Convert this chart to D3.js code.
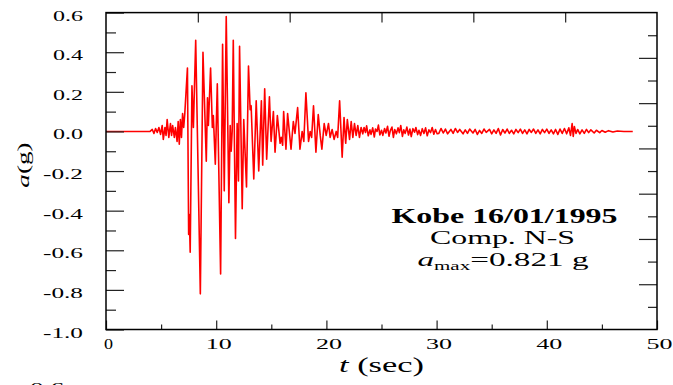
<!DOCTYPE html>
<html>
<head>
<meta charset="utf-8">
<script src="https://cdn.jsdelivr.net/npm/d3@7"></script>
<style>
  html, body { margin: 0; padding: 0; background: #fff; }
  svg { display: block; }
  text { font-family: 'Liberation Serif', 'Times New Roman', serif; fill: #000; }
</style>
</head>
<body>
<script>
// Kobe 16/01/1995, N-S component: [t (sec), a (g)]
const preEvent = [
  [0, 0], [4.0, 0], [4.2, 0.01], [4.35, -0.01], [4.5, 0.015], [4.65, -0.005], [4.8, 0.02],
  [4.95, -0.015], [5.1, 0.03], [5.2, -0.04], [5.35, 0.02], [5.45, -0.02], [5.55, 0.06],
  [5.7, -0.03], [5.85, 0.04], [5.95, -0.02], [6.05, 0.03], [6.2, -0.03], [6.3, 0.02],
  [6.45, -0.05], [6.55, 0.05], [6.65, -0.065], [6.75, 0.06], [6.85, -0.03], [6.95, 0.09],
  [7.05, 0.02], [7.15, 0.09]
]
const strongMotion = [
  [7.39, 0.32], [7.5, -0.52], [7.56, -0.42], [7.64, -0.61], [7.8, 0.23], [7.93, 0.02],
  [8.14, 0.46], [8.56, -0.82], [8.8, 0.40], [9.1, -0.15], [9.21, 0.17], [9.29, 0.03],
  [9.49, 0.32], [9.65, 0.02], [9.74, 0.08], [9.92, -0.165], [10.1, 0.24], [10.4, -0.72],
  [10.58, 0.44], [10.73, -0.30], [10.91, 0.58], [11.15, -0.36], [11.27, 0.03], [11.36, -0.10],
  [11.45, 0.0], [11.55, 0.46], [11.75, -0.54], [11.9, 0.04], [12.02, -0.25], [12.12, 0.43],
  [12.36, -0.39], [12.5, 0.06], [12.75, -0.28], [12.93, 0.33], [13.08, 0.11], [13.17, 0.13],
  [13.41, -0.24]
]
const coda = [
  [13.63, 0.155], [13.86, -0.20], [14.1, 0.155], [14.22, -0.17], [14.4, 0.215], [14.58, -0.14],
  [14.83, 0.175], [14.98, -0.05], [15.19, 0.10], [15.34, -0.105], [15.55, 0.08], [15.8, -0.06],
  [15.9, -0.03], [16.03, -0.07], [16.12, 0.10], [16.33, -0.09], [16.48, 0.09], [16.79, -0.09],
  [17.0, 0.05], [17.15, -0.01], [17.39, 0.12], [17.6, -0.09], [17.8, 0.0], [17.95, -0.05],
  [18.14, 0.195], [18.38, -0.05], [18.53, 0.0], [18.66, -0.03], [18.83, 0.13], [19.05, -0.105],
  [19.26, 0.085], [19.44, -0.02], [19.59, -0.09], [19.8, 0.04], [19.98, -0.02], [20.19, 0.04],
  [20.34, -0.03], [20.52, 0.01], [20.7, -0.04], [20.89, 0.0], [21.02, -0.03], [21.2, 0.155],
  [21.43, -0.13], [21.6, 0.07], [21.75, -0.06], [21.9, 0.06], [22.1, -0.04], [22.25, 0.05],
  [22.4, -0.03], [22.55, 0.04], [22.7, -0.02], [22.85, 0.03], [23.0, -0.03], [23.15, 0.02]
]
const tail = [
  [23.3, -0.012], [23.42, 0.02], [23.55, -0.005], [23.65, 0.028], [23.8, -0.022], [23.95, 0.008],
  [24.05, -0.015], [24.2, 0.018], [24.35, -0.028], [24.45, 0.012], [24.6, 0.0], [24.72, 0.032],
  [24.85, -0.018], [25.0, 0.006], [25.12, -0.02], [25.28, 0.015], [25.4, -0.008], [25.55, 0.026],
  [25.68, -0.024], [25.8, 0.004], [25.95, 0.022], [26.08, -0.03], [26.2, 0.01], [26.35, -0.012],
  [26.5, 0.018], [26.62, -0.006], [26.75, 0.03], [26.9, -0.025], [27.02, 0.008], [27.15, -0.01],
  [27.3, 0.022], [27.45, -0.018], [27.58, 0.012], [27.7, -0.026], [27.85, 0.014], [28.0, -0.004],
  [28.12, 0.02], [28.28, -0.016], [28.4, 0.006], [28.55, -0.02], [28.7, 0.014], [28.85, -0.01],
  [29.0, 0.018], [29.15, -0.022], [29.3, 0.008], [29.45, -0.006], [29.6, 0.02], [29.75, -0.014],
  [29.9, 0.01], [30.05, -0.012], [30.2, -0.01], [30.4, 0.015],
  [30.6, -0.008], [30.8, 0.012], [31.0, -0.012], [31.3, 0.01], [31.5, -0.01], [31.7, 0.015],
  [31.9, -0.005], [32.1, 0.01], [32.4, -0.012], [32.6, 0.008], [32.8, -0.01], [33.0, 0.012],
  [33.3, -0.008], [33.5, 0.01], [33.7, -0.015], [33.9, 0.005], [34.1, -0.01], [34.3, 0.012],
  [34.5, -0.005], [34.8, 0.01], [35.0, -0.012], [35.2, 0.008], [35.4, -0.01], [35.6, 0.015],
  [35.8, -0.018], [36.0, 0.01], [36.2, -0.008], [36.4, 0.012], [36.6, -0.01], [36.8, 0.006],
  [37.0, -0.012], [37.2, 0.01], [37.4, -0.006], [37.6, 0.012], [37.8, -0.01], [38.0, 0.008],
  [38.2, -0.012], [38.4, 0.01], [38.6, -0.005], [38.8, 0.012], [39.0, -0.01], [39.2, 0.008],
  [39.4, -0.012], [39.6, 0.01], [39.8, -0.006], [40.0, 0.012], [40.2, -0.01], [40.4, 0.008],
  [40.6, -0.012], [40.8, 0.01], [41.0, -0.015], [41.2, 0.012], [41.4, -0.01], [41.6, 0.015],
  [41.8, -0.012], [42.0, 0.018], [42.15, -0.02], [42.3, 0.04], [42.4, -0.025], [42.5, 0.025],
  [42.65, -0.01], [42.8, 0.01], [43.0, -0.012], [43.2, 0.008], [43.4, -0.01], [43.6, 0.01],
  [43.8, -0.006], [44.0, 0.008], [44.3, -0.008], [44.5, 0.006], [44.8, -0.006], [45.0, 0.005],
  [45.3, -0.004], [45.6, 0.004], [46.0, -0.003], [46.4, 0.002], [47.0, 0], [47.8, 0]
]

const xMajor = [0, 10, 20, 30, 40, 50]
const xMinor = [5, 15, 25, 35, 45]
const yMajor = [-1.0, -0.8, -0.6, -0.4, -0.2, 0.0, 0.2, 0.4, 0.6]
const yMinor = [-0.9, -0.7, -0.5, -0.3, -0.1, 0.1, 0.3, 0.5]

const width = 673
const height = 385
const plot = { left: 106, right: 657, top: 12.6, bottom: 329.5 }

const svg = d3.select('body').append('svg')
  .attr('width', width)
  .attr('height', height)

const x = d3.scaleLinear().domain([0, 50]).range([plot.left, plot.right])
const y = d3.scaleLinear().domain([-1, 0.6]).range([plot.bottom, plot.top])

const record = [...preEvent, ...strongMotion, ...coda, ...tail]

// Trace
svg.append('path')
  .datum(record)
  .attr('fill', 'none')
  .attr('stroke', '#ff0000')
  .attr('stroke-width', 1.6)
  .attr('stroke-linejoin', 'round')
  .attr('d', d3.line().x(d => x(d[0])).y(d => y(d[1])))

const fmtY = d => (d < -0.001 ? '-' + Math.abs(d).toFixed(1) : Math.abs(d).toFixed(1))

function styleTicks(g) {
  g.select('.domain').remove()
  g.selectAll('.tick line').attr('stroke', '#222').attr('stroke-width', 1.2)
}

// Bottom axis
svg.append('g')
  .attr('transform', `translate(0, ${plot.bottom})`)
  .call(d3.axisBottom(x).tickValues(xMajor).tickSize(-9).tickPadding(9).tickFormat(d3.format('d')))
  .call(styleTicks)
  .call(g => g.selectAll('text')
    .attr('font-size', 15)
    .attr('dx', 2)
    .attr('textLength', d => (d < 10 ? 9 : 26))
    .attr('lengthAdjust', 'spacingAndGlyphs'))

svg.append('g')
  .attr('transform', `translate(0, ${plot.bottom})`)
  .call(d3.axisBottom(x).tickValues(xMinor).tickSize(-5).tickFormat(''))
  .call(styleTicks)

// Left axis
svg.append('g')
  .attr('transform', `translate(${plot.left}, 0)`)
  .call(d3.axisLeft(y).tickValues(yMajor).tickSize(-18).tickPadding(23).tickFormat(fmtY))
  .call(styleTicks)
  .call(g => g.selectAll('text')
    .attr('font-size', 15)
    .attr('dy', '0.5em')
    .attr('textLength', d => (d < -0.001 ? 40 : 30))
    .attr('lengthAdjust', 'spacingAndGlyphs'))

svg.append('g')
  .attr('transform', `translate(${plot.left}, 0)`)
  .call(d3.axisLeft(y).tickValues(yMinor).tickSize(-10).tickFormat(''))
  .call(styleTicks)

// Top axis: 6 divisions
svg.append('g')
  .attr('transform', `translate(0, ${plot.top})`)
  .call(d3.axisTop(x).tickValues(d3.range(1, 6).map(k => 50 * k / 6)).tickSize(-10).tickFormat(''))
  .call(styleTicks)

// Right axis: 14 divisions, alternating long/short
const rightTicks = d3.range(1, 14).map(k => 0.6 - 1.6 * k / 14)
svg.append('g')
  .attr('transform', `translate(${plot.right}, 0)`)
  .call(d3.axisRight(y).tickValues(rightTicks.filter((_, i) => i % 2 === 1)).tickSize(-18).tickFormat(''))
  .call(styleTicks)
svg.append('g')
  .attr('transform', `translate(${plot.right}, 0)`)
  .call(d3.axisRight(y).tickValues(rightTicks.filter((_, i) => i % 2 === 0)).tickSize(-9).tickFormat(''))
  .call(styleTicks)

// Frame
svg.append('rect')
  .attr('x', plot.left)
  .attr('y', plot.top)
  .attr('width', plot.right - plot.left)
  .attr('height', plot.bottom - plot.top)
  .attr('fill', 'none')
  .attr('stroke', '#000')
  .attr('stroke-width', 1.5)

// Axis titles
const xTitle = svg.append('text')
  .attr('x', x(25))
  .attr('y', 372)
  .attr('text-anchor', 'middle')
  .attr('font-size', 20)
  .attr('textLength', 85)
  .attr('lengthAdjust', 'spacingAndGlyphs')
xTitle.append('tspan').attr('font-style', 'italic').text('t')
xTitle.append('tspan').text(' (sec)')

const yTitle = svg.append('g')
  .attr('transform', 'translate(29, 165) rotate(-90) scale(1.6, 1)')
  .append('text')
  .attr('text-anchor', 'middle')
  .attr('font-size', 17)
yTitle.append('tspan').attr('font-style', 'italic').text('a')
yTitle.append('tspan').text('(g)')

// Annotation
svg.append('text')
  .attr('x', 504.5)
  .attr('y', 223.3)
  .attr('text-anchor', 'middle')
  .attr('font-size', 20)
  .attr('font-weight', 'bold')
  .attr('textLength', 226)
  .attr('lengthAdjust', 'spacingAndGlyphs')
  .text('Kobe 16/01/1995')

svg.append('text')
  .attr('x', 502.5)
  .attr('y', 244.3)
  .attr('text-anchor', 'middle')
  .attr('font-size', 19)
  .attr('textLength', 145)
  .attr('lengthAdjust', 'spacingAndGlyphs')
  .text('Comp. N-S')

const amax = svg.append('g')
  .attr('transform', 'translate(503, 265.7) scale(1.75, 1)')
  .append('text')
  .attr('text-anchor', 'middle')
  .attr('font-size', 19)
amax.append('tspan').attr('font-style', 'italic').text('a')
amax.append('tspan').attr('font-size', 12).attr('dy', 4).text('max')
amax.append('tspan').attr('dy', -4).text('=0.821 g')

// Clipped label of the next figure below
svg.append('text')
  .attr('x', 30)
  .attr('y', 392.5)
  .attr('font-size', 15)
  .attr('textLength', 34)
  .attr('lengthAdjust', 'spacingAndGlyphs')
  .text('0.6')
</script>
</body>
</html>
